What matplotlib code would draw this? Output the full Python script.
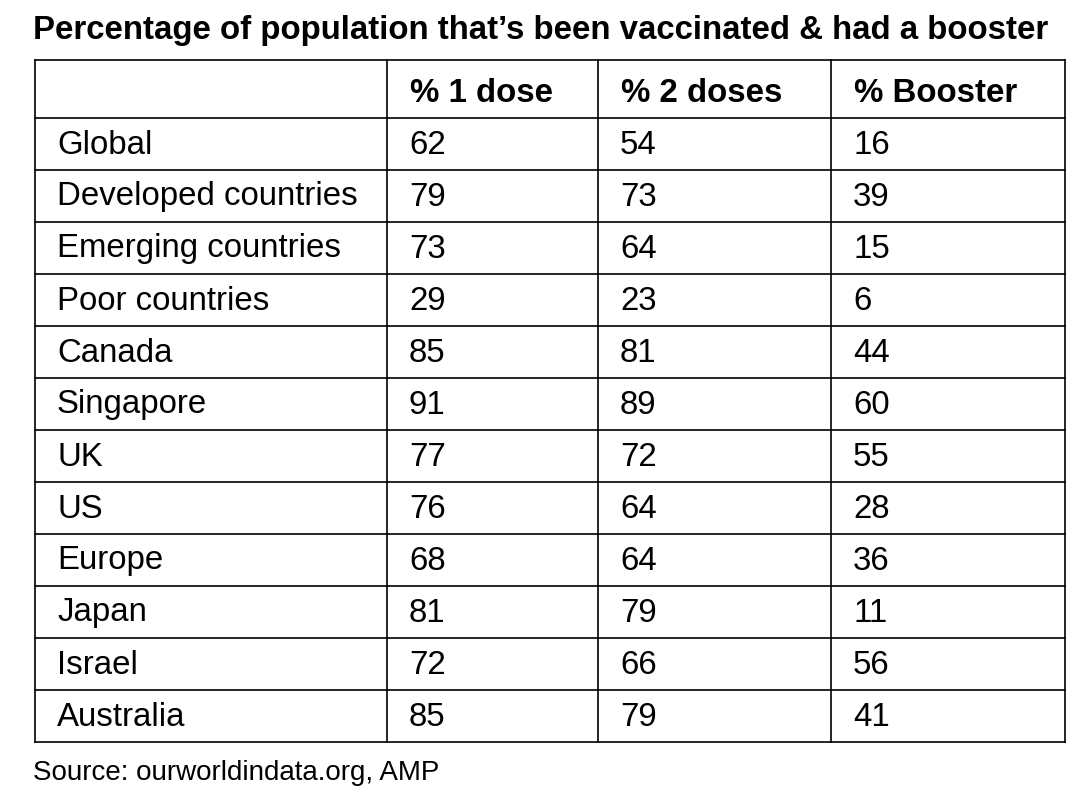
import matplotlib
matplotlib.use("Agg")
import matplotlib.pyplot as plt

plt.rcParams['font.family'] = ['Liberation Sans', 'DejaVu Sans']

headers = ['', '% 1 dose', '% 2 doses', '% Booster']
regions = ['Global', 'Developed countries', 'Emerging countries', 'Poor countries',
           'Canada', 'Singapore', 'UK', 'US', 'Europe', 'Japan', 'Israel', 'Australia']
one_dose = [62, 79, 73, 29, 85, 91, 77, 76, 68, 81, 72, 85]
two_doses = [54, 73, 64, 23, 81, 89, 72, 64, 64, 79, 66, 79]
booster = [16, 39, 15, 6, 44, 60, 55, 28, 36, 11, 56, 41]

fig = plt.figure(figsize=(10.92, 8.11), dpi=100)
ax = fig.add_axes([0, 0, 1, 1])
ax.set_xlim(0, 1092)
ax.set_ylim(811, 0)
ax.axis('off')

col_x = [35, 387, 598, 831, 1065]
row_y = [60, 118] + [118 + 52 * (i + 1) for i in range(len(regions))]

for x in col_x:
    ax.plot([x, x], [row_y[0], row_y[-1]], color='black', lw=1.2)
for y in row_y:
    ax.plot([col_x[0], col_x[-1]], [y, y], color='black', lw=1.2)

ax.text(33, 30, 'Percentage of population that\u2019s been vaccinated & had a booster',
        fontsize=23.8, fontweight='bold', va='center', ha='left')

for j, h in enumerate(headers):
    ax.text(col_x[j] + 23, (row_y[0] + row_y[1]) / 2 + 4, h, fontsize=23.8,
            fontweight='bold', va='center', ha='left')

for i, name in enumerate(regions):
    yc = (row_y[i + 1] + row_y[i + 2]) / 2 + 1
    vals = [name, one_dose[i], two_doses[i], booster[i]]
    for j, v in enumerate(vals):
        ax.text(col_x[j] + 22, yc, str(v), fontsize=23.8, va='center', ha='left')

ax.text(33, 773, 'Source: ourworldindata.org, AMP', fontsize=20, va='center', ha='left')

fig.savefig('out.png', dpi=100)
